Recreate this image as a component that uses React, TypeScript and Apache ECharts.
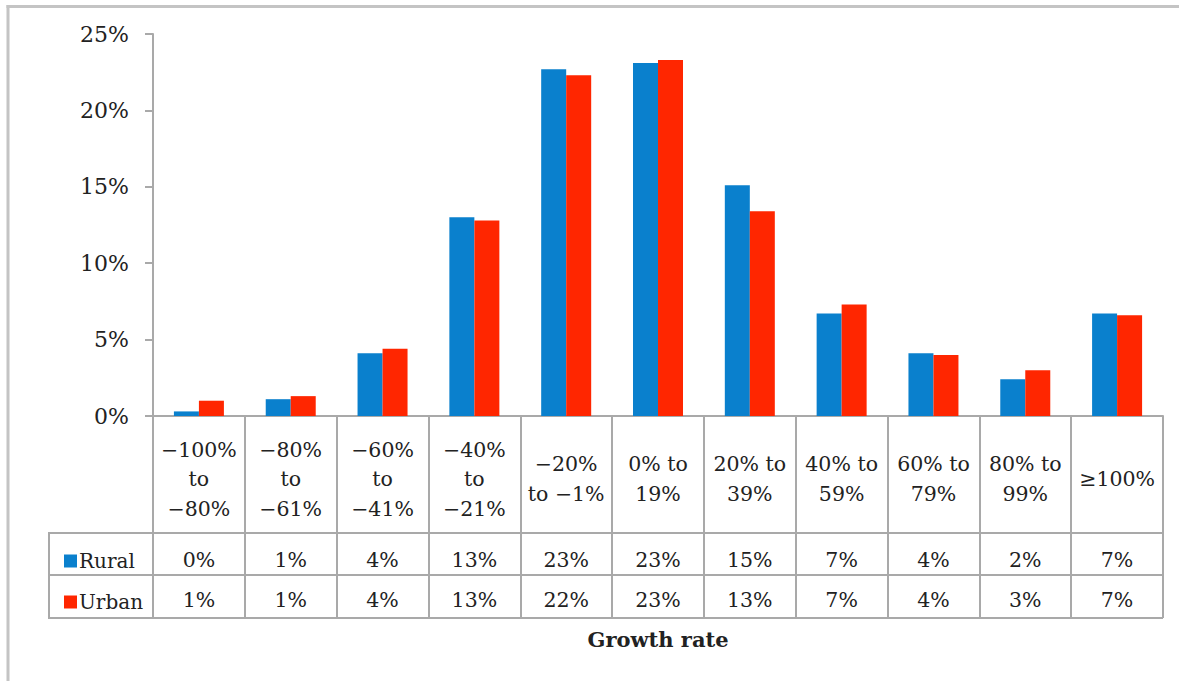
import React, { useEffect, useRef } from "react";
import * as echarts from "echarts";

// Growth-rate bands (header row of the data table)
const categories = [
  "−100%\nto\n−80%",
  "−80%\nto\n−61%",
  "−60%\nto\n−41%",
  "−40%\nto\n−21%",
  "−20%\nto −1%",
  "0% to\n19%",
  "20% to\n39%",
  "40% to\n59%",
  "60% to\n79%",
  "80% to\n99%",
  "≥100%",
];

// Share of places in each band, in percent
const rural = [0.3, 1.1, 4.1, 13.0, 22.7, 23.1, 15.1, 6.7, 4.1, 2.4, 6.7];
const urban = [1.0, 1.3, 4.4, 12.8, 22.3, 23.3, 13.4, 7.3, 4.0, 3.0, 6.6];

const yTicks = [0, 5, 10, 15, 20, 25];

const BLUE = "#0a80cd";
const RED = "#ff2600";
const GRID_LINE = "#a9a9a9";
const FONT = "DejaVu Serif";
const TEXT = "#222222";

export default function App() {
  const ref = useRef<HTMLDivElement>(null);

  useEffect(() => {
    if (!ref.current) return;
    document.body.style.margin = "0";
    document.body.style.overflow = "hidden";
    const chart = echarts.init(ref.current, undefined, { renderer: "svg" });

    const rowAxis = (values: number[], margin: number) => ({
      type: "category",
      data: categories,
      position: "bottom",
      gridIndex: 0,
      axisLine: { show: false },
      axisTick: { show: false },
      axisLabel: {
        margin,
        verticalAlign: "middle",
        fontFamily: FONT,
        fontSize: 20.5,
        color: TEXT,
        formatter: (_v: string, i: number) => `${Math.round(values[i])}%`,
      },
    });

    const frameLine = (x1: number, y1: number, x2: number, y2: number, color: string, w: number) => ({
      type: "line",
      shape: { x1, y1, x2, y2 },
      style: { stroke: color, lineWidth: w },
      silent: true,
    });

    chart.setOption({
      animation: false,
      backgroundColor: "#ffffff",
      grid: { left: 153, right: 16, top: 34, bottom: 265, containLabel: false },
      legend: {
        orient: "vertical",
        left: 59,
        top: 546,
        itemWidth: 13,
        itemHeight: 13,
        itemGap: 21,
        icon: "rect",
        data: ["Rural", "Urban"],
        textStyle: {
          fontFamily: FONT,
          fontSize: 20,
          color: TEXT,
          lineHeight: 20,
          padding: [0, 0, 0, -3],
        },
      },
      xAxis: [
        {
          type: "category",
          data: categories,
          position: "bottom",
          name: "Growth rate",
          nameLocation: "middle",
          nameGap: 213,
          nameTextStyle: {
            fontFamily: FONT,
            fontSize: 21,
            fontWeight: "bold",
            color: TEXT,
          },
          axisLine: { lineStyle: { color: GRID_LINE, width: 2 } },
          axisTick: {
            show: true,
            inside: false,
            length: 202,
            lineStyle: { color: GRID_LINE, width: 2 },
          },
          axisLabel: {
            margin: 63,
            verticalAlign: "middle",
            lineHeight: 29.5,
            fontFamily: FONT,
            fontSize: 20.5,
            color: TEXT,
            interval: 0,
          },
        },
        rowAxis(rural, 144),
        rowAxis(urban, 184),
      ],
      yAxis: {
        type: "value",
        min: 0,
        max: 25,
        interval: 5,
        axisLine: { show: true, lineStyle: { color: GRID_LINE, width: 2 } },
        axisTick: { show: true, length: 8, lineStyle: { color: GRID_LINE, width: 2 } },
        splitLine: { show: false },
        axisLabel: {
          margin: 24,
          fontFamily: FONT,
          fontSize: 22,
          color: TEXT,
          padding: [9, 0, 0, 0],
          formatter: (v: number) => (yTicks.includes(v) ? `${v}%` : ""),
        },
      },
      series: [
        {
          name: "Rural",
          type: "bar",
          data: rural,
          barWidth: 25,
          barGap: "0%",
          itemStyle: { color: BLUE },
        },
        {
          name: "Urban",
          type: "bar",
          data: urban,
          barWidth: 25,
          barGap: "0%",
          itemStyle: { color: RED },
        },
      ],
      graphic: [
        // outer frame of the figure (top and left edges)
        frameLine(6.5, 6.5, 1190, 6.5, "#c4c4c4", 3),
        frameLine(8, 5, 8, 690, "#c4c4c4", 3),
        // data-table rows under the axis
        frameLine(49, 533, 1163, 533, GRID_LINE, 2),
        frameLine(49, 575, 1163, 575, GRID_LINE, 2),
        frameLine(49, 618, 1163, 618, GRID_LINE, 2),
        frameLine(49, 532, 49, 619, GRID_LINE, 2),
      ],
    });

    return () => chart.dispose();
  }, []);

  return (
    <div
      ref={ref}
      style={{ position: "absolute", left: 0, top: 0, width: 1179, height: 681 }}
    />
  );
}
